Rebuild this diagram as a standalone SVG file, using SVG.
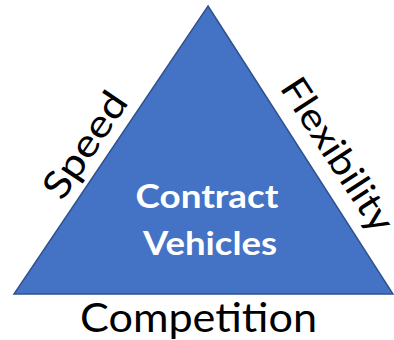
<svg xmlns="http://www.w3.org/2000/svg" width="394" height="340" viewBox="0 0 394 340">
<style>
.lbl{font-family:Lato,"Open Sans","Liberation Sans",sans-serif;fill:#000;}
.in{font-family:Lato,"Open Sans","Liberation Sans",sans-serif;fill:#fff;font-weight:bold;font-size:33px;text-anchor:middle;}
</style>
<rect width="394" height="340" fill="#fff"/>
<g id="triangle">
<polygon points="208,6 393,294 14,294" fill="#4472C4" stroke="#2F528F" stroke-width="1.5" stroke-linejoin="miter"/>
<text class="in" x="207" y="208" textLength="143" lengthAdjust="spacingAndGlyphs">Contract</text>
<text class="in" x="210" y="255" textLength="134" lengthAdjust="spacingAndGlyphs">Vehicles</text>
</g>
<g id="speed">
<text class="lbl" font-size="38" text-anchor="middle" transform="translate(85,145) rotate(-56)" y="13" textLength="120" lengthAdjust="spacingAndGlyphs">Speed</text>
</g>
<g id="flexibility">
<text class="lbl" font-size="37" text-anchor="middle" transform="translate(337,155) rotate(57)" y="12" textLength="176" lengthAdjust="spacingAndGlyphs">Flexibility</text>
</g>
<g id="competition">
<text class="lbl" font-size="40" x="80" y="332" textLength="237" lengthAdjust="spacingAndGlyphs">Competition</text>
</g>
</svg>
